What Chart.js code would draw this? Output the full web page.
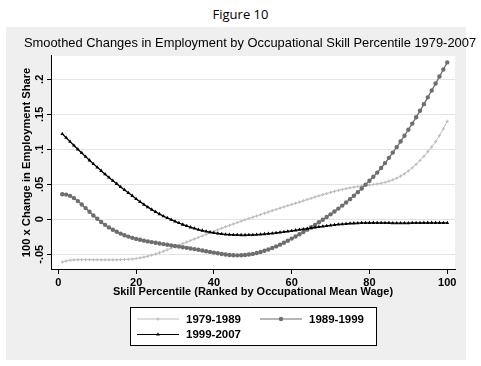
<!DOCTYPE html>
<html>
<head>
<meta charset="utf-8">
<script src="https://cdn.jsdelivr.net/npm/chart.js@4.4.1/dist/chart.umd.min.js"></script>
<style>
  html, body { margin: 0; padding: 0; background: #fff; }
  #wrap { position: relative; width: 481px; height: 366px; overflow: hidden; }
  #panel { position: absolute; left: 6px; top: 27px; width: 460px; height: 333px; background: #efefef; }
  #fig { position: absolute; left: 0; top: 5px; width: 481px; text-align: center;
         font: 13px "Open Sans", sans-serif; color: #000; line-height: 18px; }
  #chart { position: absolute; left: 19px; top: 0; }
</style>
</head>
<body>
<div id="wrap">
  <div id="panel"></div>
  <div id="fig">Figure 10</div>
  <canvas id="chart" width="462" height="366"></canvas>
</div>
<script>
const pct = [1, 2, 3, 4, 5, 6, 7, 8, 9, 10, 11, 12, 13, 14, 15, 16, 17, 18, 19, 20,
  21, 22, 23, 24, 25, 26, 27, 28, 29, 30, 31, 32, 33, 34, 35, 36, 37, 38, 39, 40,
  41, 42, 43, 44, 45, 46, 47, 48, 49, 50, 51, 52, 53, 54, 55, 56, 57, 58, 59, 60,
  61, 62, 63, 64, 65, 66, 67, 68, 69, 70, 71, 72, 73, 74, 75, 76, 77, 78, 79, 80,
  81, 82, 83, 84, 85, 86, 87, 88, 89, 90, 91, 92, 93, 94, 95, 96, 97, 98, 99, 100];

const s7989 = [-.061, -.0595, -.0585, -.058, -.0578, -.0577, -.0577, -.0577, -.0578, -.0578,
  -.0579, -.0579, -.0579, -.0579, -.0578, -.0577, -.0575, -.0572, -.0567, -.056,
  -.0551, -.054, -.0527, -.0513, -.0497, -.0478, -.0457, -.0435, -.0413, -.0391,
  -.0369, -.0347, -.0325, -.0303, -.0281, -.0259, -.0237, -.0215, -.0193, -.0171,
  -.0149, -.0128, -.0107, -.0087, -.0067, -.0047, -.0027, -.0008, .0011, .003,
  .0048, .0067, .0086, .0105, .0123, .0141, .0159, .0177, .0195, .0212,
  .0229, .0246, .0264, .0282, .03, .0318, .0335, .0352, .0368, .0384,
  .0399, .0413, .0426, .0438, .0449, .0459, .0468, .0476, .0483, .049,
  .0497, .0505, .0515, .0528, .0544, .0564, .0588, .0616, .065, .069,
  .0735, .0785, .084, .09, .0965, .1035, .111, .1195, .1292, .14];

const s8999 = [.0357, .0353, .0335, .0303, .026, .0212, .016, .0107, .0055, .0007,
  -.0038, -.0079, -.0116, -.0149, -.0178, -.0204, -.0227, -.0247, -.0265, -.028,
  -.0293, -.0305, -.0316, -.0326, -.0336, -.0345, -.0354, -.0363, -.0372, -.0381,
  -.039, -.0399, -.0408, -.0417, -.0426, -.0436, -.0446, -.0456, -.0466, -.0476,
  -.0486, -.0495, -.0503, -.0509, -.0513, -.0515, -.0514, -.051, -.0503, -.0494,
  -.0482, -.0467, -.045, -.0431, -.041, -.0387, -.0362, -.0335, -.0306, -.0276,
  -.0245, -.0213, -.0181, -.0148, -.0114, -.0079, -.0043, -.0006, .0032, .0071,
  .0111, .0153, .0196, .0241, .0288, .0337, .0388, .0441, .0495, .055,
  .0607, .0667, .0733, .0803, .0878, .0953, .1031, .1111, .1194, .1279,
  .1367, .1457, .155, .1645, .1742, .184, .1939, .2039, .214, .2241];

const s9907 = [.122, .1165, .111, .1055, .1, .0947, .0895, .0843, .0792, .0742,
  .0693, .0645, .0598, .0552, .0507, .0463, .042, .0378, .0336, .029,
  .025, .0211, .0174, .0139, .0106, .0075, .0046, .0019, -.0006, -.003,
  -.0053, -.0075, -.0095, -.0114, -.0131, -.0147, -.0161, -.0174, -.0185, -.0195,
  -.0203, -.021, -.0215, -.0219, -.0222, -.0224, -.0225, -.0225, -.0224, -.0222,
  -.0219, -.0215, -.0211, -.0206, -.0201, -.0195, -.0188, -.0181, -.0173, -.0165,
  -.0157, -.0149, -.0141, -.0133, -.0125, -.0117, -.0109, -.0101, -.0094, -.0087,
  -.008, -.0074, -.0069, -.0064, -.006, -.0057, -.0054, -.0052, -.0051, -.005,
  -.005, -.005, -.0051, -.0052, -.0053, -.0054, -.0055, -.0055, -.0055, -.0054,
  -.0053, -.0052, -.0051, -.005, -.005, -.005, -.005, -.005, -.0051, -.0052];

const seriesNames = ['1979-1989', '1989-1999', '1999-2007'];
const xTickValues = [0, 20, 40, 60, 80, 100];
const yTickValues = [-.05, 0, .05, .1, .15, .2];
const yTickLabels = ['-.05', '0', '.05', '.1', '.15', '.2'];

const toPoints = (vals) => pct.map((x, i) => ({ x: x, y: vals[i] }));

// white plot region, like Stata's plotregion
const plotBg = {
  id: 'plotBg',
  beforeDraw(chart) {
    const { ctx, chartArea } = chart;
    ctx.save();
    ctx.fillStyle = '#ffffff';
    ctx.fillRect(chartArea.left, chartArea.top,
      chartArea.right - chartArea.left, chartArea.bottom - chartArea.top);
    ctx.restore();
  }
};

// boxed legend under the x axis title, two columns
const boxLegend = {
  id: 'boxLegend',
  afterDraw(chart) {
    const { ctx, chartArea } = chart;
    const cx = (chartArea.left + chartArea.right) / 2;
    const left = cx - 123;
    const top = chart.scales.x.bottom + 8;
    ctx.save();
    ctx.fillStyle = '#ffffff';
    ctx.fillRect(left, top, 246, 38);
    ctx.strokeStyle = '#000000';
    ctx.lineWidth = 1;
    ctx.strokeRect(Math.round(left) + 0.5, Math.round(top) + 0.5, 246, 38);

    const slots = [
      { x: left + 7, y: top + 12 },
      { x: left + 130, y: top + 12 },
      { x: left + 7, y: top + 27.5 }
    ];
    chart.data.datasets.forEach((ds, i) => {
      const s = slots[i];
      ctx.strokeStyle = ds.borderColor;
      ctx.lineWidth = 1;
      ctx.beginPath();
      ctx.moveTo(s.x, s.y);
      ctx.lineTo(s.x + 42, s.y);
      ctx.stroke();
      ctx.fillStyle = ds.pointBackgroundColor;
      ctx.strokeStyle = ds.pointBorderColor;
      if (Chart.helpers && Chart.helpers.drawPoint) {
        Chart.helpers.drawPoint(ctx, {
          pointStyle: ds.pointStyle, radius: ds.pointRadius,
          borderWidth: ds.pointBorderWidth, rotation: 0
        }, s.x + 21, s.y);
      }
      ctx.fillStyle = '#000000';
      ctx.font = 'bold 11.5px "Liberation Sans", Arial, sans-serif';
      ctx.textBaseline = 'middle';
      ctx.textAlign = 'left';
      ctx.fillText(ds.label, s.x + 49, s.y + 0.5);
    });
    ctx.restore();
  }
};

const ctx = document.getElementById('chart').getContext('2d');

new Chart(ctx, {
  type: 'line',
  data: {
    datasets: [
      {
        label: seriesNames[0],
        data: toPoints(s7989),
        borderColor: '#bdbdbd',
        borderWidth: 1,
        pointStyle: 'cross',
        pointRadius: 1.6,
        pointBorderWidth: 1,
        pointBackgroundColor: '#bdbdbd',
        pointBorderColor: '#bdbdbd',
        order: 3
      },
      {
        label: seriesNames[1],
        data: toPoints(s8999),
        borderColor: '#6e6e6e',
        borderWidth: 1.3,
        pointStyle: 'circle',
        pointRadius: 2.2,
        pointBorderWidth: 0,
        pointBackgroundColor: '#6e6e6e',
        pointBorderColor: '#6e6e6e',
        order: 2
      },
      {
        label: seriesNames[2],
        data: toPoints(s9907),
        borderColor: '#000000',
        borderWidth: 1.3,
        pointStyle: 'triangle',
        pointRadius: 2.2,
        pointBorderWidth: 0,
        pointBackgroundColor: '#000000',
        pointBorderColor: '#000000',
        order: 1
      }
    ]
  },
  options: {
    responsive: false,
    animation: false,
    devicePixelRatio: 1,
    layout: { padding: { left: 0, right: 0, top: 0, bottom: 67 } },
    elements: { line: { tension: 0 } },
    plugins: {
      legend: { display: false },
      tooltip: { enabled: false },
      title: {
        display: true,
        text: 'Smoothed Changes in Employment by Occupational Skill Percentile 1979-2007',
        color: '#000',
        font: { family: '"Liberation Sans", Arial, sans-serif', size: 12.9, weight: 'normal' },
        padding: { top: 35.3, bottom: 5.2 }
      }
    },
    scales: {
      x: {
        type: 'linear',
        min: -1.9,
        max: 102,
        afterBuildTicks: (scale) => { scale.ticks = xTickValues.map(v => ({ value: v })); },
        afterFit: (scale) => { scale.height = 30; },
        border: { display: true, color: '#000', width: 1 },
        grid: { drawOnChartArea: false, drawTicks: true, tickLength: 5, tickColor: '#000' },
        ticks: {
          autoSkip: false, maxRotation: 0, minRotation: 0, padding: 2,
          color: '#000',
          font: { family: '"Liberation Sans", Arial, sans-serif', size: 11, weight: 'bold' },
          callback: (v) => String(v)
        },
        title: {
          display: true,
          text: 'Skill Percentile (Ranked by Occupational Mean Wage)',
          color: '#000',
          font: { family: '"Liberation Sans", Arial, sans-serif', size: 11, weight: 'bold' },
          padding: { top: 0, bottom: 0 }
        }
      },
      y: {
        type: 'linear',
        min: -0.071,
        max: 0.2333,
        afterBuildTicks: (scale) => { scale.ticks = yTickValues.map(v => ({ value: v })); },
        afterFit: (scale) => { scale.width = 32; },
        border: { display: true, color: '#000', width: 1 },
        grid: { color: '#e4e4e4', lineWidth: 1, drawTicks: true, tickLength: 4, tickColor: '#000' },
        ticks: {
          autoSkip: false, minRotation: 90, maxRotation: 90, crossAlign: 'center', padding: -2.5,
          color: '#000',
          font: { family: '"Liberation Sans", Arial, sans-serif', size: 11, weight: 'bold' },
          callback: (v, i) => yTickLabels[i]
        },
        title: {
          display: true,
          text: '100 x Change in Employment Share',
          color: '#000',
          font: { family: '"Liberation Sans", Arial, sans-serif', size: 11.2, weight: 'bold' },
          padding: { top: 1.4, bottom: 0 }
        }
      },
      // empty right-hand margin so the title stays centred on the whole figure
      yRight: {
        type: 'linear',
        position: 'right',
        afterFit: (scale) => { scale.width = 26; },
        border: { display: false },
        grid: { display: false, drawTicks: false },
        ticks: { display: false }
      }
    }
  },
  plugins: [plotBg, boxLegend]
});
</script>
</body>
</html>
